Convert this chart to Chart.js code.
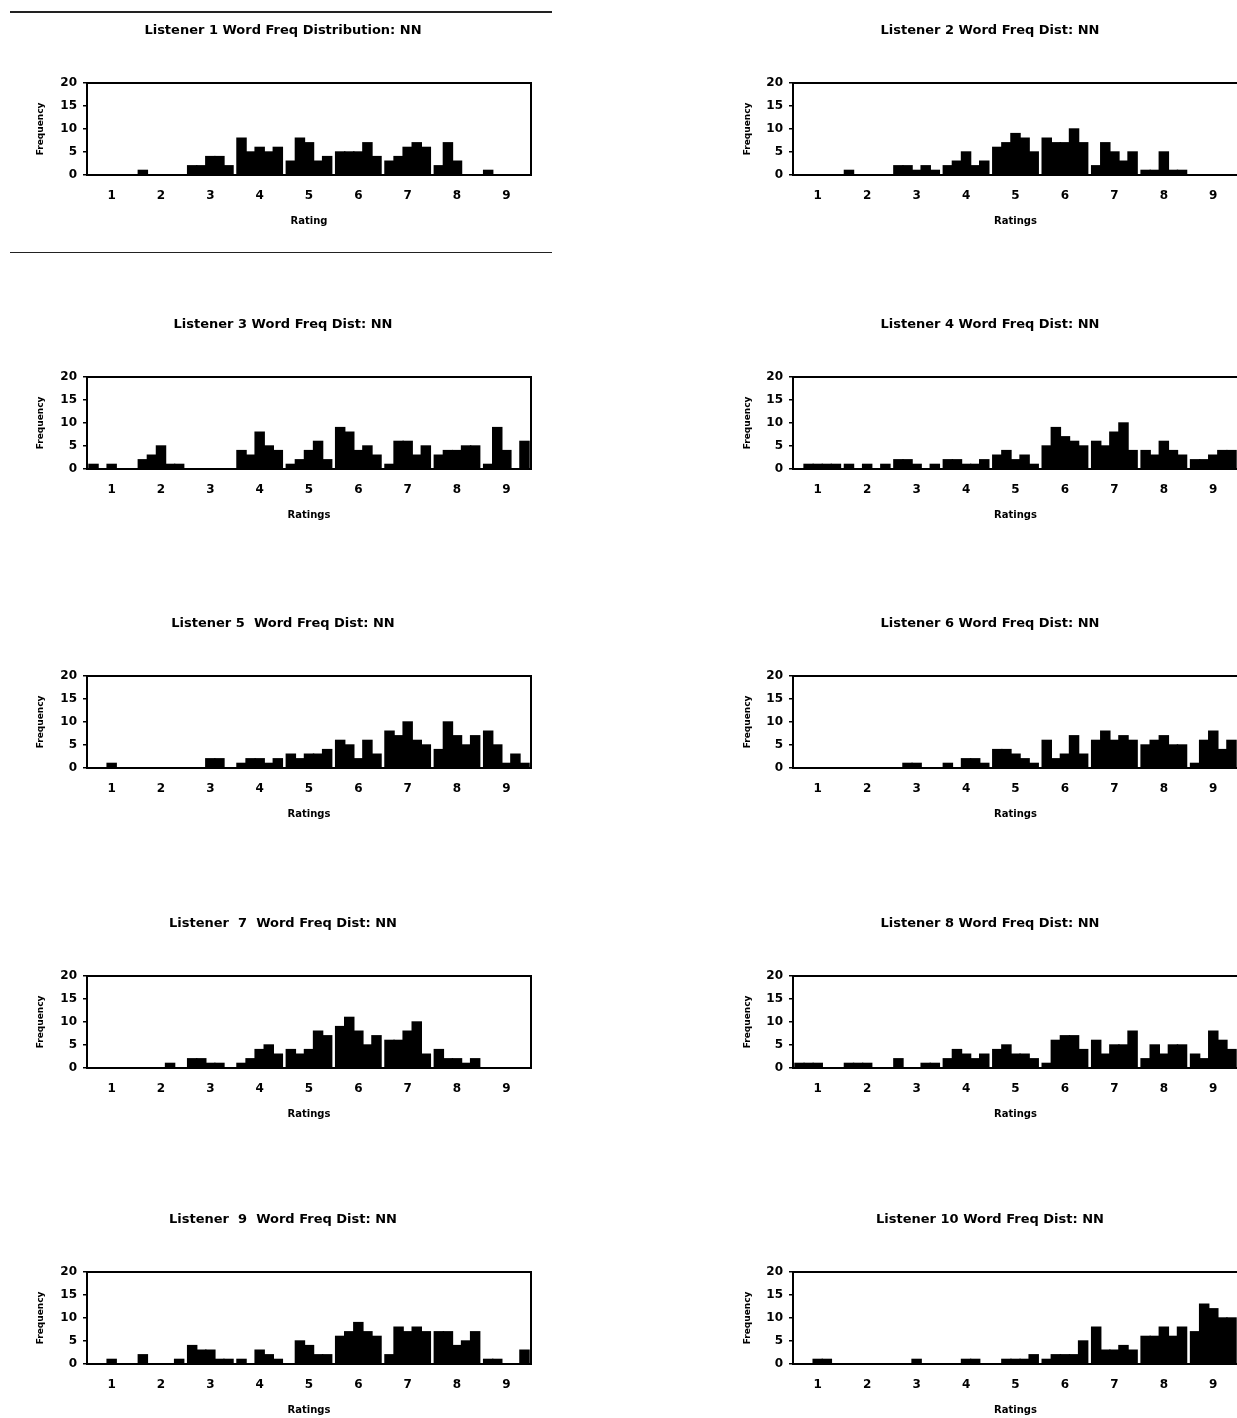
<!DOCTYPE html>
<html lang="en">
<head>
  <meta charset="UTF-8">
  <title>Listener Word Freq Distributions: NN</title>
  <script src="https://cdn.jsdelivr.net/npm/chart.js"></script>
  <style>
    body { margin: 0; width: 1237px; height: 1418px; overflow: hidden; background: #fff; position: relative; }
    canvas { position: absolute; }
    .regua { position: absolute; left: 10px; width: 542px; border-top: 2px solid #222; }
  </style>
</head>
<body>
  <!-- linhas em volta do primeiro grafico -->
  <div class="regua" style="top:11px"></div>
  <div class="regua" style="top:252px; border-top-width:1px"></div>
  <div id="area"></div>

<script>
  // rotulos do eixo x (notas)
  const ratings = ['1', '2', '3', '4', '5', '6', '7', '8', '9'];

  const titulos = [
    'Listener 1 Word Freq Distribution: NN',
    'Listener 2 Word Freq Dist: NN',
    'Listener 3 Word Freq Dist: NN',
    'Listener 4 Word Freq Dist: NN',
    'Listener 5  Word Freq Dist: NN',
    'Listener 6 Word Freq Dist: NN',
    'Listener  7  Word Freq Dist: NN',
    'Listener 8 Word Freq Dist: NN',
    'Listener  9  Word Freq Dist: NN',
    'Listener 10 Word Freq Dist: NN'
  ];
  const titulosX = ['Rating', 'Ratings', 'Ratings', 'Ratings', 'Ratings',
    'Ratings', 'Ratings', 'Ratings', 'Ratings', 'Ratings'];

  // frequencias: para cada nota, 5 barras (classes de frequencia da palavra)
  const listener1 = [[0,0,0,0,0],[1,0,0,0,0],[2,2,4,4,2],[8,5,6,5,6],[3,8,7,3,4],[5,5,5,7,4],[3,4,6,7,6],[2,7,3,0,0],[1,0,0,0,0]];
  const listener2 = [[0,0,0,0,0],[1,0,0,0,0],[2,2,1,2,1],[2,3,5,2,3],[6,7,9,8,5],[8,7,7,10,7],[2,7,5,3,5],[1,1,5,1,1],[0,0,0,0,0]];
  const listener3 = [[1,0,1,0,0],[2,3,5,1,1],[0,0,0,0,0],[4,3,8,5,4],[1,2,4,6,2],[9,8,4,5,3],[1,6,6,3,5],[3,4,4,5,5],[1,9,4,0,6]];
  const listener4 = [[0,1,1,1,1],[1,0,1,0,1],[2,2,1,0,1],[2,2,1,1,2],[3,4,2,3,1],[5,9,7,6,5],[6,5,8,10,4],[4,3,6,4,3],[2,2,3,4,4]];
  const listener5 = [[0,0,1,0,0],[0,0,0,0,0],[0,0,2,2,0],[1,2,2,1,2],[3,2,3,3,4],[6,5,2,6,3],[8,7,10,6,5],[4,10,7,5,7],[8,5,1,3,1]];
  const listener6 = [[0,0,0,0,0],[0,0,0,0,0],[0,1,1,0,0],[1,0,2,2,1],[4,4,3,2,1],[6,2,3,7,3],[6,8,6,7,6],[5,6,7,5,5],[1,6,8,4,6]];
  const listener7 = [[0,0,0,0,0],[0,0,0,1,0],[2,2,1,1,0],[1,2,4,5,3],[4,3,4,8,7],[9,11,8,5,7],[6,6,8,10,3],[4,2,2,1,2],[0,0,0,0,0]];
  const listener8 = [[1,1,1,0,0],[1,1,1,0,0],[2,0,0,1,1],[2,4,3,2,3],[4,5,3,3,2],[1,6,7,7,4],[6,3,5,5,8],[2,5,3,5,5],[3,2,8,6,4]];
  const listener9 = [[0,0,1,0,0],[2,0,0,0,1],[4,3,3,1,1],[1,0,3,2,1],[0,5,4,2,2],[6,7,9,7,6],[2,8,7,8,7],[7,7,4,5,7],[1,1,0,0,3]];
  const listener10 = [[0,0,1,1,0],[0,0,0,0,0],[0,0,1,0,0],[0,0,1,1,0],[0,1,1,1,2],[1,2,2,2,5],[8,3,3,4,3],[6,6,8,6,8],[7,13,12,10,10]];

  const listeners = [listener1, listener2, listener3, listener4, listener5,
    listener6, listener7, listener8, listener9, listener10];

  // posicao de cada grafico na pagina
  const colLeft = [0, 715];
  const colWidth = [566, 550];
  const colPad = [35, 27];
  const rowTop = [11, 305, 604, 904, 1200];

  Chart.defaults.font.family = "'DejaVu Sans', 'Liberation Sans', sans-serif";
  Chart.defaults.font.weight = 'bold';
  Chart.defaults.color = '#000';

  // moldura preta em volta da area do grafico
  const moldura = {
    id: 'moldura',
    afterDatasetsDraw(chart) {
      const a = chart.chartArea;
      const ctx = chart.ctx;
      ctx.save();
      ctx.strokeStyle = '#000';
      ctx.lineWidth = 2;
      ctx.strokeRect(a.left, a.top, a.right - a.left, a.bottom - a.top);
      ctx.restore();
    }
  };

  function plotarGrafico(i) {
    const col = i % 2;
    const row = Math.floor(i / 2);

    var canvas = document.createElement('canvas');
    canvas.width = colWidth[col];
    canvas.height = 240;
    canvas.style.left = colLeft[col] + 'px';
    canvas.style.top = rowTop[row] + 'px';
    document.getElementById('area').appendChild(canvas);

    // transpondo: uma serie por classe de frequencia
    var datasets = [];
    for (var s = 0; s < 5; s++) {
      datasets.push({
        data: listeners[i].map(function (g) { return g[s]; }),
        backgroundColor: '#000',
        borderWidth: 0,
        inflateAmount: 0.7,
        barPercentage: 1.0,
        categoryPercentage: 0.92
      });
    }

    new Chart(canvas.getContext('2d'), {
      type: 'bar',
      data: { labels: ratings, datasets: datasets },
      options: {
        responsive: false,
        animation: false,
        layout: { padding: { left: colPad[col], right: colPad[col], top: 0, bottom: 24 } },
        plugins: {
          legend: { display: false },
          tooltip: { enabled: false },
          title: {
            display: true,
            text: titulos[i],
            font: { size: 13, weight: 'bold' },
            padding: { top: 12, bottom: 44.4 }
          }
        },
        scales: {
          x: {
            grid: { display: false, drawTicks: false },
            border: { display: false },
            ticks: { font: { size: 12, weight: 'bold' }, padding: 14, maxRotation: 0 },
            title: { display: true, text: titulosX[i], font: { size: 10, weight: 'bold' }, padding: 0 },
            afterFit: function (scale) { scale.height = 52; }
          },
          y: {
            min: 0,
            max: 20,
            ticks: { stepSize: 5, font: { size: 12, weight: 'bold' }, padding: 6 },
            grid: { drawOnChartArea: false, drawTicks: true, tickLength: 4, color: '#000', lineWidth: 1.5 },
            border: { display: false },
            title: { display: true, text: 'Frequency', font: { size: 9, weight: 'bold' }, padding: { top: 0, bottom: 3 } },
            afterFit: function (scale) { scale.width = (col === 0 ? 52 : 51); }
          }
        }
      },
      plugins: [moldura]
    });
  }

  for (var i = 0; i < listeners.length; i++) {
    plotarGrafico(i);
  }
</script>
</body>
</html>
